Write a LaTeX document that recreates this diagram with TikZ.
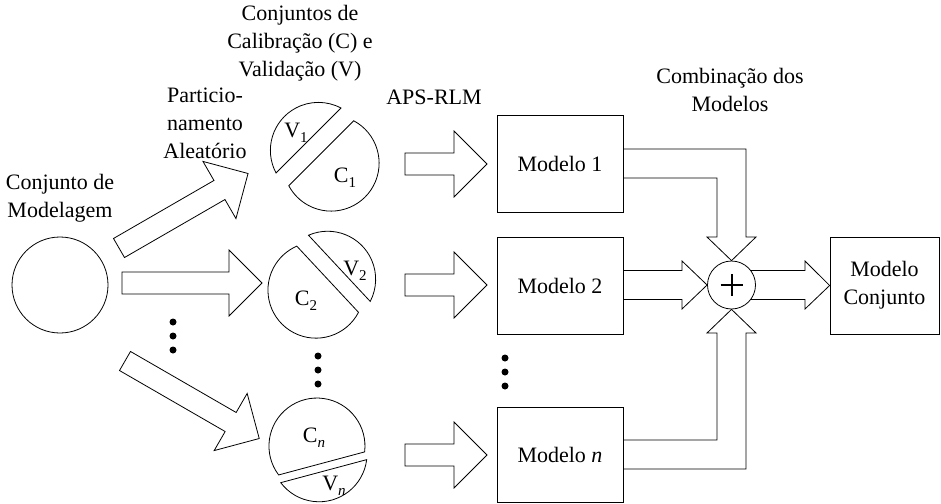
\documentclass[tikz,border=0pt]{standalone}
\usepackage{fontspec}
\setmainfont{Liberation Serif}
\usetikzlibrary{calc}
\newcommand\sbs[1]{\raisebox{-0.5ex}{\fontsize{15}{15}\selectfont #1}}
% split circle: cx, cy, normal angle (towards V piece), chord offset, half separation
\newcommand\splitcirc[5]{%
  \pgfmathsetmacro\sca{acos(#4/48)}%
  \draw[shift={(#1,#2)}, shift={(#3:#5)}] ({#3-\sca}:48) arc[start angle={#3-\sca}, end angle={#3+\sca}, radius=48] -- cycle;
  \draw[shift={(#1,#2)}, shift={({#3+180}:#5)}] ({#3+\sca}:48) arc[start angle={#3+\sca}, end angle={#3+360-\sca}, radius=48] -- cycle;
}
% block arrow: tail mid x, y, angle, length
\newcommand\blockarrow[4]{%
  \draw[shift={(#1,#2)}, rotate=#3] (0,-11) -- ({#4-33},-11) -- ({#4-33},-33) -- (#4,0) -- ({#4-33},33) -- ({#4-33},11) -- (0,11) -- cycle;
}
\begin{document}
\begin{tikzpicture}[x=1pt,y=-1pt, line width=0.8pt,
  every node/.style={font=\fontsize{22}{28}\selectfont, inner sep=0pt, align=center},
  box/.style={draw, minimum width=126, minimum height=97},
  dotpt/.style={fill=black}]
\useasboundingbox (0,0) rectangle (941,503);

% texts
\node (tmod) at (60,198) {Conjunto de\\Modelagem};
\node (tpart) at (205,123) {Particio-\\namento\\Aleatório};
\node (tconj) at (300,43) {Conjuntos de\\Calibração (C) e\\Validação (V)};
\node (taps) at (434,97) {APS-RLM};
\node (tcomb) at (730,90) {Combinação dos\\Modelos};

% modelling set
\node[draw, circle, minimum size=96] (mod) at (60,285) {};

% partition arrows
\blockarrow{119}{248}{30}{149}
\blockarrow{122}{283}{0}{140}
\blockarrow{125}{361}{-30}{155}

% split circles
\splitcirc{324.75}{156.75}{225}{14}{9}
\splitcirc{321.8}{284.7}{317}{16}{8}
\splitcirc{318}{449.9}{75}{18}{4}
\node (v1) at (296,133) {V\sbs{1}};
\node (c1) at (345,178) {C\sbs{1}};
\node (v2) at (355,271) {V\sbs{2}};
\node (c2) at (306,301) {C\sbs{2}};
\node (cn) at (314,438) {C\sbs{\textit{n}}};
\node (vn) at (334,486) {V\sbs{\textit{n}}};

% dots
\foreach \y in {322,336,350} \fill[dotpt] (173,\y) circle[radius=3.5];
\foreach \y in {356,370,384} \fill[dotpt] (318,\y) circle[radius=3.5];
\foreach \y in {358,372,386} \fill[dotpt] (505,\y) circle[radius=3.5];

% APS-RLM arrows
\blockarrow{405}{164}{0}{82}
\blockarrow{405}{285}{0}{82}
\blockarrow{405}{455}{0}{82}

% models
\node[box] (m1) at (560,163.5) {Modelo 1};
\node[box] (m2) at (560,285.5) {Modelo 2};
\node[box, minimum height=95] (mn) at (560,454.5) {Modelo \textit{n}};
\node[draw, minimum width=109, minimum height=97] (mc) at (884.5,285.5) {Modelo\\Conjunto};

% combination
\node[draw, circle, minimum size=48] (plus) at (731.5,285) {};
\draw[line width=2] (720.5,285) -- (742.5,285) (731.5,274) -- (731.5,296);

\draw (m1.east |- 0,149) -- (746,149) -- (746,237) -- (756,237) -- (plus.north) -- (707,237) -- (717,237) -- (717,178) -- (m1.east |- 0,178);
\draw (m2.east |- 0,270.5) -- (682,270.5) -- (682,261) -- (plus.west) -- (682,309) -- (682,299.5) -- (m2.east |- 0,299.5);
\draw (mn.east |- 0,440) -- (717,440) -- (717,333) -- (707,333) -- (plus.south) -- (756,333) -- (746,333) -- (746,469) -- (mn.east |- 0,469);
\draw (750.6,270.5) -- (805,270.5) -- (805,261) -- (mc.west) -- (805,309) -- (805,299.5) -- (750.6,299.5);
\end{tikzpicture}
\end{document}
